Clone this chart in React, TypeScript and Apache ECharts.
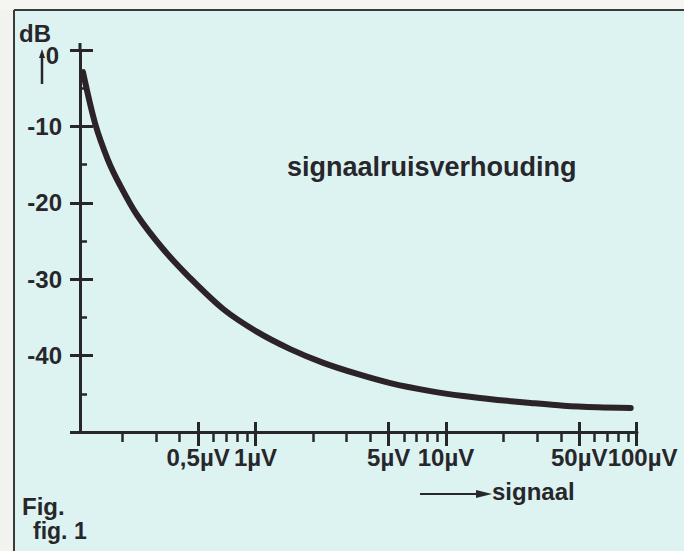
import React, { useEffect, useRef } from "react";
import * as echarts from "echarts";

// ---- data ----
const signalUV = [0.1244, 0.1438, 0.1683, 0.1947, 0.239, 0.3275, 0.454, 0.6766, 1.021, 1.522, 2.27, 3.424, 5.105, 8.284, 12.35, 18.64, 27.78, 41.41, 62.48, 93.15];
const snrDb = [-2.9, -9.55, -14.4, -17.7, -21.6, -26.05, -29.85, -33.9, -36.9, -39.15, -40.95, -42.4, -43.6, -44.65, -45.3, -45.8, -46.2, -46.55, -46.75, -46.85];

const xMajorTicks = [0.5, 1, 5, 10, 50, 100];
const xMajorLabels = ["0,5µV", "1µV", "5µV", "10µV", "50µV", "100µV"];
const xMinorTicks = [0.2, 0.3, 0.4, 0.6, 0.7, 0.8, 0.9, 2, 3, 4, 6, 7, 8, 9, 20, 30, 40, 60, 70, 80, 90];

const yLabelValues = [0, -10, -20, -30, -40];
const yLabelTexts = ["0", "-10", "-20", "-30", "-40"];

const xMin = 0.12;
const xMax = 100.5;
const yMin = -50;
const yMax = 0;

const INK = "#27272b";
const CURVE = "#2b2327";
const BG = "#ddf3f2";
const FONT = "'Liberation Sans', Arial, Helvetica, sans-serif";

function labelFor(values: number[], texts: string[], v: number) {
  for (let i = 0; i < values.length; i++) {
    if (Math.abs(values[i] - v) <= Math.abs(values[i]) * 1e-6 + 1e-9) return texts[i];
  }
  return "";
}

export default function App() {
  const ref = useRef<HTMLDivElement>(null);

  useEffect(() => {
    if (!ref.current) return;
    const chart = echarts.init(ref.current, undefined, { renderer: "svg" });

    // the last label sits against its neighbour, as in the reference;
    // it is given its own axis so ECharts does not drop it
    const lastTick = xMajorTicks[xMajorTicks.length - 1];
    const leadingTicks = xMajorTicks.slice(0, -1);

    const labelStyle = {
      color: INK,
      fontSize: 24,
      fontWeight: 700,
      fontFamily: FONT,
    };

    const baseX = {
      type: "log" as const,
      min: xMin,
      max: xMax,
      position: "bottom" as const,
      splitLine: { show: false },
      minorTick: { show: false },
      minorSplitLine: { show: false },
    };
    const baseY = {
      type: "value" as const,
      min: yMin,
      max: yMax,
      interval: 10,
      position: "left" as const,
      splitLine: { show: false },
    };

    const option: any = {
      animation: false,
      backgroundColor: BG,
      grid: { left: 80, right: 47, top: 50, bottom: 119 },
      xAxis: [
        {
          ...baseX,
          axisLine: { show: true, onZero: false, lineStyle: { color: INK, width: 3 } },
          axisTick: { show: true, customValues: xMajorTicks, length: 14, inside: false, lineStyle: { color: INK, width: 3 } },
          axisLabel: {
            show: true,
            customValues: leadingTicks,
            margin: 13,
            ...labelStyle,
            formatter: (v: number) => labelFor(xMajorTicks, xMajorLabels, v),
          },
        },
        {
          ...baseX,
          axisLine: { show: false, onZero: false },
          axisTick: { show: true, customValues: xMajorTicks, length: 10, inside: true, lineStyle: { color: INK, width: 3 } },
          axisLabel: {
            show: true,
            customValues: [lastTick],
            margin: 13,
            padding: [0, 0, 0, 12],
            ...labelStyle,
            formatter: (v: number) => labelFor(xMajorTicks, xMajorLabels, v),
          },
        },
        {
          ...baseX,
          axisLine: { show: false, onZero: false },
          axisTick: { show: true, customValues: xMinorTicks, length: 10, inside: false, lineStyle: { color: INK, width: 2.5 } },
          axisLabel: { show: false },
        },
      ],
      yAxis: [
        {
          ...baseY,
          axisLine: { show: true, onZero: false, lineStyle: { color: INK, width: 3 } },
          axisTick: { show: true, length: 10, inside: false, lineStyle: { color: INK, width: 3 } },
          axisLabel: {
            show: true,
            customValues: yLabelValues,
            margin: 18,
            ...labelStyle,
            formatter: (v: number) => {
              const t = labelFor(yLabelValues, yLabelTexts, v);
              return v === 0 ? `{z|${t}}` : t;
            },
            rich: {
              z: { ...labelStyle, padding: [10, 3, 0, 0] },
            },
          },
        },
        {
          ...baseY,
          axisLine: { show: false, onZero: false },
          axisTick: { show: true, length: 13, inside: true, lineStyle: { color: INK, width: 3 } },
          minorTick: { show: true, splitNumber: 2, length: 7, lineStyle: { color: INK, width: 2.5 } },
          axisLabel: { show: false },
        },
      ],
      series: [
        {
          type: "line",
          xAxisIndex: 0,
          yAxisIndex: 0,
          data: signalUV.map((v, i) => [v, snrDb[i]]),
          smooth: 0.3,
          showSymbol: false,
          symbol: "none",
          lineStyle: { color: CURVE, width: 6, cap: "round", join: "round" },
          z: 5,
        },
      ],
      graphic: [
        { type: "rect", shape: { x: 0, y: 0, width: 14, height: 551 }, style: { fill: "#f2f2ee" }, z: -10 },
        { type: "rect", shape: { x: 0, y: 0, width: 684, height: 10 }, style: { fill: "#f5f5f1" }, z: -10 },
        { type: "line", shape: { x1: 14, y1: 10, x2: 14, y2: 551 }, style: { stroke: "#3a3a3a", lineWidth: 2 }, z: -5 },
        { type: "line", shape: { x1: 14, y1: 10, x2: 684, y2: 10 }, style: { stroke: "#3a3a3a", lineWidth: 2 }, z: -5 },
        // axis extension above the 0 tick
        { type: "line", shape: { x1: 80, y1: 43, x2: 80, y2: 51 }, style: { stroke: INK, lineWidth: 3 } },
        // y-direction arrow near 0
        { type: "line", shape: { x1: 42, y1: 84, x2: 42, y2: 54 }, style: { stroke: INK, lineWidth: 2.5 } },
        { type: "polygon", shape: { points: [[39, 58], [45, 58], [42, 49]] }, style: { fill: INK } },
        // texts
        {
          type: "text", x: 19, y: 33,
          style: { text: "dB", font: `bold 24px ${FONT}`, fill: INK, textAlign: "left", textVerticalAlign: "middle" },
        },
        {
          type: "text", x: 287, y: 167,
          style: { text: "signaalruisverhouding", font: `bold 27px ${FONT}`, fill: INK, textAlign: "left", textVerticalAlign: "middle" },
        },
        { type: "line", shape: { x1: 420, y1: 494, x2: 482, y2: 494 }, style: { stroke: INK, lineWidth: 2 } },
        { type: "polygon", shape: { points: [[476, 490], [492, 494], [476, 498]] }, style: { fill: INK } },
        {
          type: "text", x: 492, y: 491,
          style: { text: "signaal", font: `bold 24px ${FONT}`, fill: INK, textAlign: "left", textVerticalAlign: "middle" },
        },
        {
          type: "text", x: 22, y: 506,
          style: { text: "Fig.", font: `bold 24px ${FONT}`, fill: INK, textAlign: "left", textVerticalAlign: "middle" },
        },
        {
          type: "text", x: 33, y: 531,
          style: { text: "fig. 1", font: `bold 23px ${FONT}`, fill: INK, textAlign: "left", textVerticalAlign: "middle" },
        },
      ],
    };

    chart.setOption(option);
    return () => chart.dispose();
  }, []);

  return (
    <div
      ref={ref}
      style={{ position: "fixed", left: 0, top: 0, width: 684, height: 551 }}
    />
  );
}
